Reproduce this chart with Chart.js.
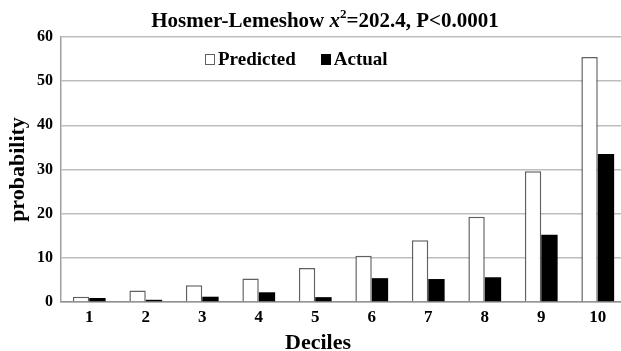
<!DOCTYPE html>
<html>
<head>
<meta charset="utf-8">
<script src="https://cdn.jsdelivr.net/npm/chart.js@4"></script>
<style>
  html, body { margin: 0; padding: 0; background: #fff; overflow: hidden; }
  #wrap { position: relative; width: 621px; height: 351px; overflow: hidden; }
  canvas { position: absolute; left: 0; top: 0; }
  .serif { font-family: "Liberation Serif", "DejaVu Serif", serif; font-weight: bold; color: #000; position: absolute; white-space: nowrap; }
  #title { top: 8px; left: 125px; width: 400px; text-align: center; font-size: 21px; line-height: 24px; }
  #title sup { font-size: 13px; line-height: 0; position: relative; top: -1px; }
  #legend { top: 49px; left: 205px; font-size: 19px; line-height: 20px; }
  #xtitle { top: 330px; left: 218px; width: 200px; text-align: center; font-size: 22px; line-height: 24px; }
  .box { display: inline-block; width: 10px; height: 11px; vertical-align: 0px; margin-right: 3px; box-sizing: border-box; }
</style>
</head>
<body>
<div id="wrap">
  <canvas id="c" width="626" height="351"></canvas>
  <div id="title" class="serif">Hosmer-Lemeshow <i>x</i><sup>2</sup>=202.4, P&lt;0.0001</div>
  <div id="legend" class="serif"><span class="box" style="border:1.5px solid #606060;background:#fff"></span>Predicted<span style="display:inline-block;width:25px"></span><span class="box" style="background:#000"></span>Actual</div>
  <div id="xtitle" class="serif">Deciles</div>
</div>
<script>
const categories = ["1","2","3","4","5","6","7","8","9","10"];
const predicted = [1.2, 2.6, 3.8, 5.3, 7.7, 10.5, 14.0, 19.3, 29.6, 55.5];
const actual = [0.9, 0.5, 1.2, 2.2, 1.1, 5.4, 5.2, 5.6, 15.2, 33.5];
const yTicks = [0, 10, 20, 30, 40, 50, 60];

const serif = "'Liberation Serif', 'DejaVu Serif', serif";

new Chart(document.getElementById('c'), {
  type: 'bar',
  data: {
    labels: categories,
    datasets: [
      { label: 'Predicted', data: predicted, backgroundColor: '#ffffff', borderColor: '#606060', borderWidth: 1.5,
        categoryPercentage: 0.58, barPercentage: 1.0 },
      { label: 'Actual', data: actual, backgroundColor: '#000000', borderColor: '#000000', borderWidth: 0,
        categoryPercentage: 0.58, barPercentage: 1.0 }
    ]
  },
  options: {
    responsive: false,
    animation: false,
    devicePixelRatio: 1,
    layout: { padding: { top: 37, left: 5, right: 0, bottom: 0 } },
    plugins: { legend: { display: false }, title: { display: false }, tooltip: { enabled: false } },
    scales: {
      x: {
        grid: { display: false, drawTicks: false },
        border: { display: true, color: '#909090', width: 1.5 },
        ticks: { color: '#000', font: { family: serif, size: 17, weight: 'bold' }, padding: 5 },
        title: { display: false },
        afterFit: (s) => { s.height = 49; }
      },
      y: {
        min: 0, max: 60,
        afterBuildTicks: (s) => { s.ticks = yTicks.map(v => ({ value: v })); },
        grid: { color: '#bdbdbd', lineWidth: 1.5, drawTicks: false },
        border: { display: true, color: '#a0a0a0', width: 1.5 },
        ticks: { color: '#000', font: { family: serif, size: 16, weight: 'bold' }, padding: 8 },
        title: { display: true, text: 'probability', color: '#000', font: { family: serif, size: 22, weight: 'bold' }, padding: { top: 0, bottom: 0 } },
        afterFit: (s) => { s.width = 56; }
      }
    }
  }
});
</script>
</body>
</html>
